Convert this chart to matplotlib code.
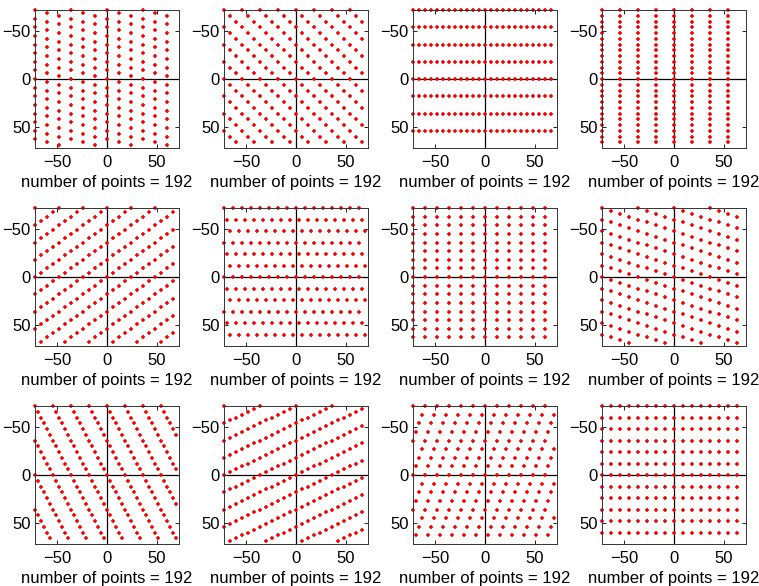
import numpy as np
import matplotlib.pyplot as plt

plt.rcParams['font.family'] = ['Liberation Sans', 'DejaVu Sans']
plt.rcParams['font.size'] = 12

# lattice generators for each panel (two basis vectors, pixel units)
basis_a = [(12, 3), (6, 6), (6, 0), (0, 6),
           (6, -4.5), (9, 0), (12, 0), (9, 3),
           (3, 6), (6, -3), (12, 0), (9, 0)]
basis_b = [(0, 9), (18, 0), (0, 18), (18, 0),
           (0, 18), (3, 12), (0, 9), (0, 12),
           (18, 0), (0, 18), (-3, 9), (0, 12)]
half = 72
ticks = [-50, 0, 50]


def lattice(a, b, lim=half):
    a = np.array(a, float)
    b = np.array(b, float)
    n = np.arange(-80, 81)
    i, j = np.meshgrid(n, n)
    pts = i.ravel()[:, None] * a + j.ravel()[:, None] * b
    keep = np.all((pts >= -lim - 1e-9) & (pts < lim - 1e-9), axis=1)
    return pts[keep]


fig = plt.figure(figsize=(7.59, 5.86), dpi=100)
W, H = 759.0, 586.0
lefts = [35, 224, 413, 602]
tops = [10, 208, 406]

for k in range(12):
    r, c = divmod(k, 4)
    ax = fig.add_axes([lefts[c] / W, 1 - (tops[r] + 138) / H, 144 / W, 138 / H])
    pts = lattice(basis_a[k], basis_b[k])
    ax.axhline(0, color='k', lw=0.9, zorder=1)
    ax.axvline(0, color='k', lw=0.9, zorder=1)
    ax.plot(pts[:, 0], pts[:, 1], '+', color='red', ms=3.2, mew=1.15,
            zorder=2, clip_on=False)
    ax.set_xlim(-half, half)
    ax.set_ylim(half, -half)
    ax.set_xticks(ticks)
    ax.set_yticks(ticks)
    ax.tick_params(direction='in', length=3, width=0.6, top=True, right=True,
                   labelsize=12)
    ax.tick_params(axis='x', pad=5)
    ax.tick_params(axis='y', pad=3)
    for s in ax.spines.values():
        s.set_linewidth(0.7)
        s.set_color('#333333')
    ax.set_xlabel('number of points = %d' % len(pts), fontsize=12, labelpad=4)

fig.savefig('out.png', dpi=100)
